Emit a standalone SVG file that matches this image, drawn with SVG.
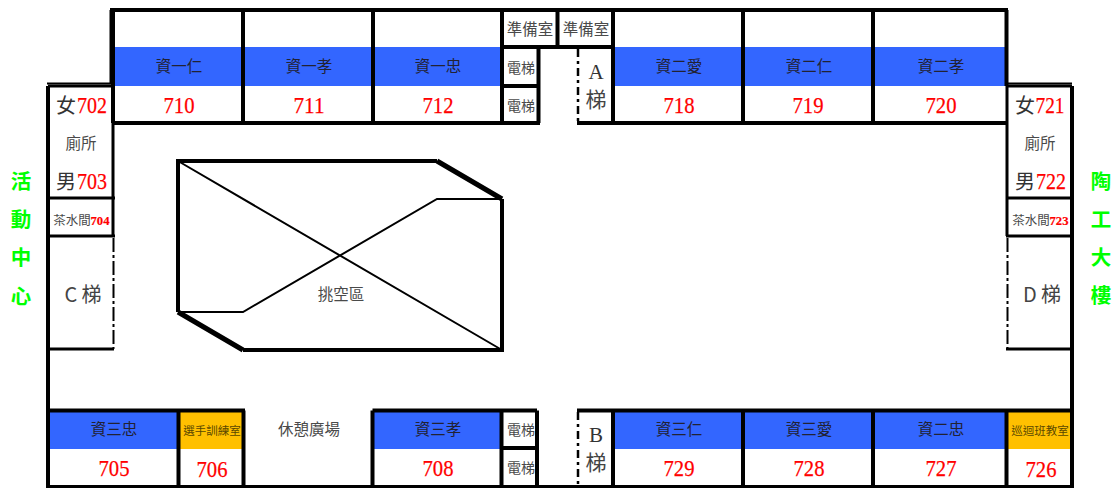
<svg xmlns="http://www.w3.org/2000/svg" width="1118" height="488" viewBox="0 0 1118 488">
<style>
text{text-anchor:middle;font-family:"Noto Sans CJK TC","Liberation Serif",serif;fill:#4a4a4a;font-weight:400}
.n{font-family:"Liberation Serif",serif;fill:#f00;font-size:24px;font-weight:400;stroke:#f00;stroke-width:.25}
.ns{font-family:"Liberation Serif",serif;fill:#f00;font-size:13px;font-weight:700;stroke:#f00;stroke-width:.2}
.c{font-size:15.500px;fill:#223}
.o{font-size:11.500px;fill:#5a4800}
.s{font-size:15.500px}
.e2{font-size:14px}
.l{font-size:20px;fill:#444}
.x{font-size:21px;fill:#444}
.xl{font-family:"Liberation Serif",serif;font-size:21px;fill:#333}
.f{font-size:20px;fill:#333}
.h{font-size:12.500px}
.g{font-size:20.500px;fill:#0f0;font-weight:700}
.b{fill:#36f}.y{fill:#ffc000}
.w{fill:none;stroke:#000;stroke-width:4}
.m{fill:none;stroke:#000;stroke-width:3}
.t{fill:none;stroke:#000;stroke-width:2}
.k{fill:none;stroke:#000;stroke-width:5}
.d{fill:none;stroke:#000;stroke-width:2;stroke-dasharray:14 3 3 3}
.e{fill:none;stroke:#000;stroke-width:2.500;stroke-dasharray:8 4 3 4}
</style>
<g id="fills">
<rect class="b" x="113" y="47" width="389" height="39"/>
<rect class="b" x="613" y="47" width="394" height="39"/>
<rect class="b" x="49" y="411" width="130" height="38"/>
<rect class="y" x="180" y="411" width="63" height="38"/>
<rect class="b" x="373" y="411" width="129" height="38"/>
<rect class="b" x="613" y="411" width="394" height="38"/>
<rect class="y" x="1007" y="411" width="64" height="38"/>
</g>
<g id="walls">
<path class="w" d="M110 10H1008M113 10V123M243 10V123M373 10V123M502 10V123M557.500 10V47M613 10V123M743 10V123M873 10V123M1006.500 10V86M502 47H613M502 86H538M538.500 47V123M113 123H540M577 123H1006.500"/>
<path class="m" d="M1007 86V236M113 86V236M48 86H114M1006 86H1072"/>
<path class="t" d="M110.500 10V83.500H47M1006.500 83.500H1072"/>
<path class="w" d="M48 86V487H1072V86"/>
<path class="m" d="M48 198H115M48 236H115M48 349H114M1006 198H1072M1006 236H1072M1006 349H1072"/>
<path class="w" d="M48 410.500H245M178.500 410.500V486M243.500 410.500V486M372.500 410.500V486M372.500 410.500H537M501.500 410.500V486M537 410.500V486M501.500 448H537M577 410.500H1072M613 410.500V486M743 410.500V486M873 410.500V486M1006.500 410.500V486"/>
<path class="e" d="M578 49V123M578 412V486"/>
<path class="d" d="M113.500 238V349M1007.500 238V349"/>
</g>
<g id="atrium">
<path class="w" d="M178 312V161H437M502 199V350H243"/>
<path class="k" d="M437 161L502 199M178 312L243 350"/>
<path class="t" d="M178 161L502 350M178 312H243L437 199H502"/>
</g>
<g id="labels">
<text class="c" x="179" y="72">資一仁</text><text class="c" x="309" y="72">資一孝</text><text class="c" x="438" y="72">資一忠</text>
<text class="c" x="679" y="72">資二愛</text><text class="c" x="809" y="72">資二仁</text><text class="c" x="941" y="72">資二孝</text>
<text class="n" x="179" y="113" textLength="31" lengthAdjust="spacingAndGlyphs">710</text>
<text class="n" x="309" y="113" textLength="31" lengthAdjust="spacingAndGlyphs">711</text>
<text class="n" x="438" y="113" textLength="31" lengthAdjust="spacingAndGlyphs">712</text>
<text class="n" x="679" y="113" textLength="31" lengthAdjust="spacingAndGlyphs">718</text>
<text class="n" x="808" y="113" textLength="31" lengthAdjust="spacingAndGlyphs">719</text>
<text class="n" x="941" y="113" textLength="31" lengthAdjust="spacingAndGlyphs">720</text>
<text class="s" x="530" y="35">準備室</text><text class="s" x="586" y="35">準備室</text>
<text class="e2" x="521" y="73">電梯</text><text class="e2" x="521" y="111">電梯</text>
<text class="xl" x="596" y="79">A</text><text class="x" x="596" y="107">梯</text>
<text class="f" x="66" y="113">女</text><text class="n" x="92" y="113" textLength="30" lengthAdjust="spacingAndGlyphs">702</text>
<text class="s" x="81" y="149">廁所</text>
<text class="f" x="66" y="189">男</text><text class="n" x="92" y="189" textLength="30" lengthAdjust="spacingAndGlyphs">703</text>
<text class="h" x="72" y="225">茶水間</text><text class="ns" x="100" y="225" textLength="19" lengthAdjust="spacingAndGlyphs">704</text>
<text class="l" x="83" y="302">C 梯</text>
<text class="f" x="1025" y="113">女</text><text class="n" x="1050" y="113" textLength="29" lengthAdjust="spacingAndGlyphs">721</text>
<text class="s" x="1040" y="149">廁所</text>
<text class="f" x="1025" y="189">男</text><text class="n" x="1051" y="189" textLength="30" lengthAdjust="spacingAndGlyphs">722</text>
<text class="h" x="1031" y="225">茶水間</text><text class="ns" x="1059" y="225" textLength="19" lengthAdjust="spacingAndGlyphs">723</text>
<text class="l" x="1042" y="302">D 梯</text>
<text class="s" x="341" y="300">挑空區</text>
<text class="c" x="114" y="435">資三忠</text>
<text class="o" x="212" y="435">選手訓練室</text>
<text class="s" x="309" y="435">休憩廣場</text>
<text class="c" x="438" y="435">資三孝</text>
<text class="e2" x="521" y="435">電梯</text><text class="e2" x="521" y="473">電梯</text>
<text class="xl" x="596" y="442">B</text><text class="x" x="596" y="470">梯</text>
<text class="c" x="679" y="435">資三仁</text><text class="c" x="809" y="435">資三愛</text><text class="c" x="941" y="435">資二忠</text>
<text class="o" x="1040" y="435">巡迴班教室</text>
<text class="n" x="114" y="476" textLength="31" lengthAdjust="spacingAndGlyphs">705</text>
<text class="n" x="212" y="477" textLength="31" lengthAdjust="spacingAndGlyphs">706</text>
<text class="n" x="438" y="476" textLength="31" lengthAdjust="spacingAndGlyphs">708</text>
<text class="n" x="679" y="476" textLength="31" lengthAdjust="spacingAndGlyphs">729</text>
<text class="n" x="809" y="476" textLength="31" lengthAdjust="spacingAndGlyphs">728</text>
<text class="n" x="941" y="476" textLength="31" lengthAdjust="spacingAndGlyphs">727</text>
<text class="n" x="1041" y="477" textLength="31" lengthAdjust="spacingAndGlyphs">726</text>
<text class="g" x="21" y="189">活</text><text class="g" x="21" y="227">動</text><text class="g" x="21" y="265">中</text><text class="g" x="21" y="304">心</text>
<text class="g" x="1101" y="189">陶</text><text class="g" x="1101" y="227">工</text><text class="g" x="1101" y="265">大</text><text class="g" x="1101" y="303">樓</text>
</g>
</svg>
